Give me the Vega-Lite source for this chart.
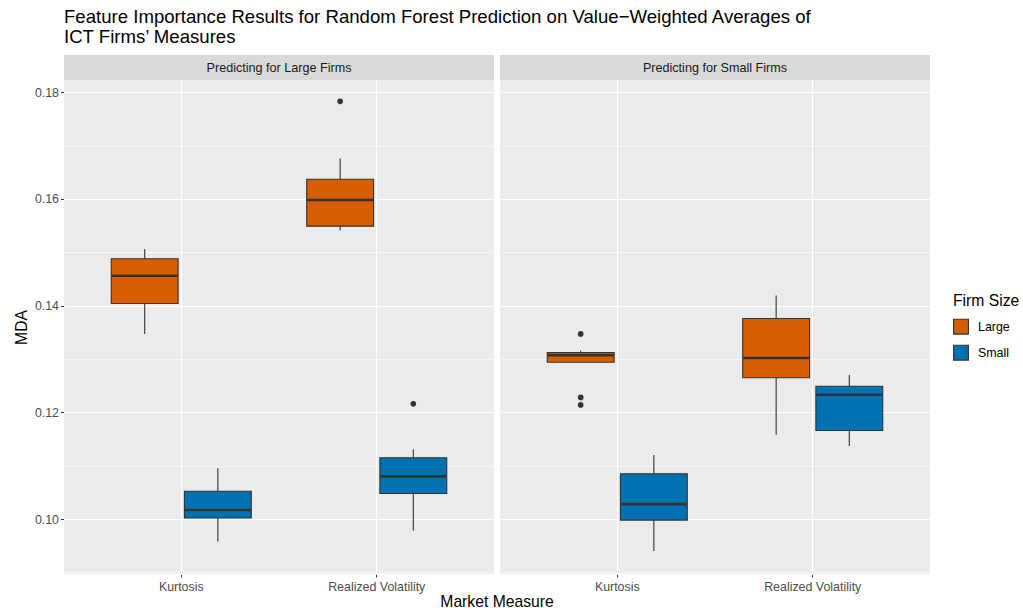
{
  "$schema": "https://vega.github.io/schema/vega-lite/v6.json",
  "background": "white",
  "padding": {"left": 13, "top": 8, "right": 5, "bottom": 3},
  "title": {
    "text": ["Feature Importance Results for Random Forest Prediction on Value−Weighted Averages of", "\u00a0ICT Firms’ Measures"],
    "anchor": "start",
    "frame": "group",
    "font": "Liberation Sans",
    "fontSize": 18.6,
    "fontWeight": "normal",
    "color": "black",
    "lineHeight": 20,
    "offset": 8
  },
  "data": {
    "values": [
      {"panel": "Predicting for Large Firms", "measure": "Kurtosis", "size": "Large", "kind": "box", "lo": 0.1347, "q1": 0.1404, "med": 0.1456, "q3": 0.1488, "hi": 0.1506},
      {"panel": "Predicting for Large Firms", "measure": "Kurtosis", "size": "Small", "kind": "box", "lo": 0.0958, "q1": 0.1002, "med": 0.1017, "q3": 0.1052, "hi": 0.1095},
      {"panel": "Predicting for Large Firms", "measure": "Realized Volatility", "size": "Large", "kind": "box", "lo": 0.1541, "q1": 0.1549, "med": 0.1598, "q3": 0.1637, "hi": 0.1676},
      {"panel": "Predicting for Large Firms", "measure": "Realized Volatility", "size": "Small", "kind": "box", "lo": 0.0978, "q1": 0.1048, "med": 0.1080, "q3": 0.1115, "hi": 0.1131},
      {"panel": "Predicting for Large Firms", "measure": "Realized Volatility", "size": "Large", "kind": "outlier", "value": 0.1783},
      {"panel": "Predicting for Large Firms", "measure": "Realized Volatility", "size": "Small", "kind": "outlier", "value": 0.1216},
      {"panel": "Predicting for Small Firms", "measure": "Kurtosis", "size": "Large", "kind": "box", "lo": 0.1294, "q1": 0.1294, "med": 0.1307, "q3": 0.1312, "hi": 0.1316},
      {"panel": "Predicting for Small Firms", "measure": "Kurtosis", "size": "Small", "kind": "box", "lo": 0.0940, "q1": 0.0998, "med": 0.1028, "q3": 0.1085, "hi": 0.1120},
      {"panel": "Predicting for Small Firms", "measure": "Realized Volatility", "size": "Large", "kind": "box", "lo": 0.1158, "q1": 0.1265, "med": 0.1302, "q3": 0.1376, "hi": 0.1419},
      {"panel": "Predicting for Small Firms", "measure": "Realized Volatility", "size": "Small", "kind": "box", "lo": 0.1137, "q1": 0.1166, "med": 0.1233, "q3": 0.1249, "hi": 0.1270},
      {"panel": "Predicting for Small Firms", "measure": "Kurtosis", "size": "Large", "kind": "outlier", "value": 0.1347},
      {"panel": "Predicting for Small Firms", "measure": "Kurtosis", "size": "Large", "kind": "outlier", "value": 0.1228},
      {"panel": "Predicting for Small Firms", "measure": "Kurtosis", "size": "Large", "kind": "outlier", "value": 0.1214}
    ]
  },
  "facet": {
    "column": {
      "field": "panel",
      "type": "nominal",
      "sort": ["Predicting for Large Firms", "Predicting for Small Firms"],
      "header": {
        "title": "Market Measure",
        "titleOrient": "bottom",
        "labels": false,
        "titleFont": "Liberation Sans",
        "titleFontSize": 15.7,
        "titleFontWeight": "normal",
        "titleColor": "black",
        "titlePadding": -8
      }
    }
  },
  "spacing": 6,
  "spec": {
    "width": 430,
    "height": 494,
    "encoding": {
      "x": {
        "field": "measure",
        "type": "nominal",
        "sort": ["Kurtosis", "Realized Volatility"],
        "scale": {"paddingInner": 0, "paddingOuter": 0.1},
        "axis": {
          "title": null,
          "labelAngle": 0,
          "labelFont": "Liberation Sans",
          "labelFontSize": 12.4,
          "labelColor": "#4D4D4D",
          "labelPadding": 3,
          "tickColor": "#333333",
          "tickSize": 3,
          "tickWidth": 1,
          "domain": false,
          "grid": true,
          "gridColor": "white",
          "gridWidth": 1.1,
          "bandPosition": 0.5
        }
      },
      "xOffset": {
        "field": "size",
        "type": "nominal",
        "sort": ["Large", "Small"],
        "scale": {"paddingInner": 0.086, "paddingOuter": 0.379}
      }
    },
    "layer": [
      {
        "transform": [{"aggregate": [{"op": "count", "as": "n"}], "groupby": ["panel"]}],
        "mark": {"type": "rect", "x": 0, "x2": {"expr": "child_width"}, "y": -25, "y2": 0, "fill": "#D9D9D9"},
        "encoding": {"x": null, "xOffset": null}
      },
      {
        "transform": [{"aggregate": [{"op": "count", "as": "n"}], "groupby": ["panel"]}],
        "mark": {"type": "text", "x": {"expr": "child_width/2"}, "y": -12.5, "baseline": "middle", "align": "center", "font": "Liberation Sans", "fontSize": 12.6, "color": "#1A1A1A"},
        "encoding": {"x": null, "xOffset": null, "text": {"field": "panel", "type": "nominal"}}
      },
      {
        "transform": [{"filter": "datum.kind === 'box'"}],
        "mark": {"type": "rule", "color": "#333333", "strokeWidth": 1.1},
        "encoding": {
          "y": {
            "field": "lo",
            "type": "quantitative",
            "scale": {"domain": [0.0897, 0.1823], "nice": false, "zero": false},
            "axis": {
              "title": "MDA",
              "titleFont": "Liberation Sans",
              "titleFontSize": 15.7,
              "titleFontWeight": "normal",
              "titleColor": "black",
              "titlePadding": 5,
              "values": [0.09, 0.10, 0.11, 0.12, 0.13, 0.14, 0.15, 0.16, 0.17, 0.18],
              "labelExpr": "round(datum.value*100) % 2 == 0 ? format(datum.value, '.2f') : ''",
              "labelFont": "Liberation Sans",
              "labelFontSize": 12.4,
              "labelColor": "#4D4D4D",
              "labelPadding": 2,
              "domain": false,
              "tickColor": "#333333",
              "tickSize": 3.5,
              "tickOpacity": {"condition": {"test": "round(datum.value*100) % 2 == 0", "value": 1}, "value": 0},
              "grid": true,
              "gridColor": "white",
              "gridWidth": {"condition": {"test": "round(datum.value*100) % 2 == 0", "value": 1.1}, "value": 0.55}
            }
          },
          "y2": {"field": "hi"}
        }
      },
      {
        "transform": [{"filter": "datum.kind === 'box'"}],
        "mark": {"type": "bar", "stroke": "#333333", "strokeWidth": 1.1},
        "encoding": {
          "y": {"field": "q1", "type": "quantitative"},
          "y2": {"field": "q3"},
          "fill": {
            "field": "size",
            "type": "nominal",
            "scale": {"domain": ["Large", "Small"], "range": ["#D55E00", "#0072B2"]},
            "legend": {
              "title": "Firm Size",
              "orient": "none",
              "legendX": 889,
              "legendY": 214,
              "titleFont": "Liberation Sans",
              "titleFontSize": 15.7,
              "titleFontWeight": "normal",
              "titleColor": "black",
              "titlePadding": 9,
              "labelFont": "Liberation Sans",
              "labelFontSize": 12.4,
              "labelColor": "black",
              "labelOffset": 9,
              "symbolType": "square",
              "symbolSize": 220,
              "symbolStrokeColor": "#333333",
              "symbolStrokeWidth": 1.1,
              "symbolOpacity": 1,
              "rowPadding": 6
            }
          }
        }
      },
      {
        "transform": [{"filter": "datum.kind === 'box'"}],
        "mark": {"type": "tick", "color": "#333333", "size": 66, "thickness": 2.6, "opacity": 1},
        "encoding": {
          "y": {"field": "med", "type": "quantitative"}
        }
      },
      {
        "transform": [{"filter": "datum.kind === 'outlier'"}],
        "mark": {"type": "circle", "color": "#333333", "size": 32, "opacity": 1},
        "encoding": {
          "y": {"field": "value", "type": "quantitative"}
        }
      }
    ]
  },
  "config": {
    "view": {"fill": "#EBEBEB", "stroke": null},
    "font": "Liberation Sans"
  }
}
